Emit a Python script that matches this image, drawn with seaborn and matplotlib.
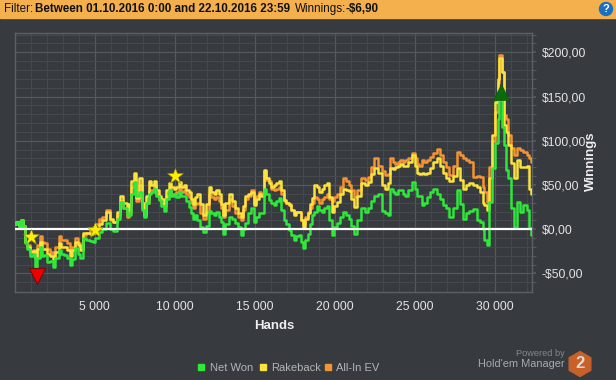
import matplotlib
matplotlib.use('Agg')
import matplotlib.pyplot as plt
import pandas as pd
import seaborn as sns
from matplotlib.patches import Circle, Rectangle, RegularPolygon

hands = [0, 200, 350, 450, 600, 720, 900, 1080, 1200, 1340, 1500, 1640, 1780, 1900, 2160, 2300, 2470, 2650, 2850, 3000,
         3150, 3350, 3530, 3700, 3880, 4000, 4150, 4350, 4600, 4800, 4950, 5150, 5350, 5600, 5850, 6050, 6280, 6500, 6700, 6900,
         7100, 7220, 7400, 7530, 7700, 7880, 8000, 8160, 8300, 8470, 8620, 8780, 8950, 9100, 9250, 9400, 9560, 9720, 9880, 10030,
         10200, 10350, 10500, 10650, 10800, 10970, 11100, 11200, 11350, 11500, 11700, 11900, 12050, 12220, 12380, 12530, 12700, 12850, 13000, 13090,
         13280, 13470, 13680, 13890, 14050, 14200, 14350, 14510, 14700, 14900, 15030, 15200, 15340, 15500, 15650, 15800, 15970, 16130, 16280, 16450,
         16600, 16750, 16900, 17060, 17220, 17380, 17530, 17680, 17840, 18000, 18090, 18250, 18400, 18530, 18660, 18820, 18970, 19120, 19280, 19440,
         19600, 19750, 19900, 20060, 20220, 20430, 20650, 20800, 20970, 21120, 21280, 21540, 21800, 22000, 22220, 22380, 22530, 22845, 23050, 23260,
         23365, 23575, 23730, 23890, 24040, 24200, 24360, 24510, 24700, 24930, 25085, 25240, 25345, 25550, 25660, 25865, 26070, 26280, 26490, 26700,
         26910, 27010, 27325, 27530, 27740, 27950, 28160, 28320, 28470, 28780, 28990, 29200, 29300, 29406, 29615, 29720, 29930, 30135, 30250, 30340,
         30550, 30660, 30760, 30970, 31115, 31320, 31490, 31700, 31900, 32120, 32220, 32300]
net_won = [6, 8, 4, 10, 4, -16, -22, -30, -28, -43, -32, -20, -30, -29, -37, -36, -43, -32, -24, -28,
           -29, -33, -40, -34, -21, -28, -33, -10, -12, -13, -15, -10, -3, 0, 7, 0, -2, 12, 31, 24,
           16, 16, 40, 53, 38, 42, 22, 14, 30, 40, 42, 46, 38, 33, 26, 21, 34, 44, 38, 40,
           36, 42, 38, 37, 32, 25, 18, 12, 16, 10, 2, -3, 4, 21, 18, 16, 20, 14, 8, -5,
           6, 14, 12, 7, 2, -6, 0, 7, 18, 24, 8, 14, 18, 18, 46, 40, 33, 30, 27, 32,
           35, 22, 10, 6, -1, -6, -12, -8, -7, -14, -21, -12, -5, 6, 16, 20, 26, 22, 20, 24,
           26, 10, -7, 2, 7, 14, 20, 16, 12, 4, -5, 10, 24, 20, 24, 32, 38, 40, 21, 18,
           16, 46, 42, 40, 44, 44, 40, 38, 44, 53, 46, 38, 38, 27, 30, 36, 42, 46, 40, 34,
           27, 24, 14, 24, 44, 28, 12, 18, 21, 23, 10, 8, 0, -12, -18, 31, 69, 98, 125, 146,
           115, 95, 67, 58, 24, 1, 31, 19, 27, 22, 1, -6.9]
rakeback = [6, 8, 4, 10, 4, -14, -20, -26, -25, -32, -22, -14, -22, -22, -28, -30, -34, -26, -16, -20,
            -20, -24, -30, -24, -14, -18, -24, -4, -4, -5, -4, 0, 6, 10, 20, 12, 8, 20, 38, 30,
            22, 29, 55, 63, 35, 58, 30, 16, 38, 54, 50, 54, 44, 38, 34, 29, 44, 52, 48, 46,
            48, 53, 48, 50, 44, 42, 34, 29, 36, 40, 28, 16, 28, 48, 42, 40, 44, 40, 28, 16,
            30, 40, 32, 24, 18, 14, 26, 37, 40, 42, 27, 34, 40, 37, 67, 58, 52, 48, 50, 52,
            55, 44, 33, 30, 27, 22, 16, 20, 19, 10, 2, 12, 18, 28, 35, 50, 48, 42, 46, 50,
            52, 36, 19, 26, 31, 40, 46, 44, 43, 34, 25, 38, 52, 50, 53, 62, 69, 64, 50, 46,
            52, 69, 68, 70, 72, 74, 72, 72, 76, 84, 72, 63, 62, 64, 62, 64, 69, 76, 80, 72,
            63, 58, 55, 60, 69, 56, 46, 50, 52, 50, 48, 42, 30, 27, 22, 58, 106, 144, 170, 193,
            178, 118, 110, 95, 75, 58, 78, 70, 70, 72, 46, 40]
all_in_ev = [6, 8, 4, 10, 4, -14, -18, -25, -24, -30, -18, -8, -14, -16, -22, -26, -30, -20, -8, -12,
             -12, -16, -24, -20, -10, -16, -22, -6, -4, 0, 2, 6, 12, 14, 22, 10, 8, 16, 32, 24,
             14, 20, 48, 56, 32, 50, 24, 15, 30, 44, 44, 50, 40, 34, 30, 26, 38, 46, 40, 40,
             42, 46, 42, 44, 40, 36, 30, 24, 28, 30, 18, 12, 20, 40, 36, 34, 36, 32, 24, 14,
             22, 34, 26, 18, 14, 10, 22, 34, 38, 44, 30, 38, 42, 40, 66, 56, 54, 46, 44, 46,
             48, 40, 32, 30, 28, 22, 18, 20, 20, 10, 6, 14, 20, 24, 30, 36, 34, 30, 34, 36,
             40, 34, 32, 36, 40, 48, 58, 54, 50, 44, 36, 44, 58, 56, 59, 70, 80, 72, 66, 61,
             62, 80, 76, 74, 76, 78, 76, 78, 80, 86, 80, 74, 72, 78, 76, 78, 82, 86, 91, 84,
             76, 70, 61, 72, 87, 84, 80, 78, 76, 59, 60, 59, 48, 42, 31, 70, 100, 132, 165, 197,
             178, 129, 125, 106, 92, 84, 92, 90, 87, 84, 80, 76]

series_names = ['Net Won', 'Rakeback', 'All-In EV']
series_colors = ['#2ee83a', '#fbe23c', '#f59432']
x_ticks = [5000, 10000, 15000, 20000, 25000, 30000]
x_labels = ['5 000', '10 000', '15 000', '20 000', '25 000', '30 000']
y_ticks = [-50, 0, 50, 100, 150, 200]
y_labels = ['-$50,00', '$0,00', '$50,00', '$100,00', '$150,00', '$200,00']
star_x = [1020, 5020, 10000]
star_y = [-9, -1, 60]
peak_x, peak_y = 30400, 155
low_x, low_y = 1430, -53

W, H = 616, 380
bg = '#373a3e'

sns.set_theme(style='dark')
plt.rcParams['font.family'] = ['Liberation Sans', 'DejaVu Sans']

df = pd.DataFrame({'hands': hands, 'Net Won': net_won, 'Rakeback': rakeback, 'All-In EV': all_in_ev})
df = df.melt(id_vars='hands', var_name='series', value_name='won')

fig = plt.figure(figsize=(W / 100, H / 100), dpi=100, facecolor=bg)
ax = fig.add_axes([15 / W, 1 - 291.5 / H, 516.7 / W, 258.5 / H], facecolor=bg)

# orange goes under yellow, green stays on top
for name in series_names[::-1]:
    sns.lineplot(data=df[df['series'] == name], x='hands', y='won', color=series_colors[series_names.index(name)],
                 linewidth=1.8, drawstyle='steps-mid', estimator=None, legend=False, ax=ax, zorder=3)

ax.axhline(0, color='white', linewidth=1.6, zorder=4)
ax.plot(star_x, star_y, linestyle='none', marker='*', markersize=12, color='#ffee00',
        markeredgecolor='#8a8a20', markeredgewidth=0.4, zorder=5)
ax.plot([peak_x], [peak_y], linestyle='none', marker='^', markersize=11, color='#0b6b0b',
        markeredgecolor='#0b5a0b', markeredgewidth=0.5, zorder=5)
ax.plot([low_x], [low_y], linestyle='none', marker='v', markersize=11, color='#ee0000',
        markeredgecolor='#7a0a0a', markeredgewidth=0.8, zorder=5)

ax.set_xlim(30, 32325)
ax.set_ylim(-70.4, 221.8)
ax.yaxis.tick_right()
ax.set_xticks(x_ticks, x_labels)
ax.set_yticks(y_ticks, y_labels)
ax.set_xticks([v for v in range(1000, 33000, 1000) if v % 5000], minor=True)
ax.set_yticks([v for v in range(-60, 221, 10) if v % 50], minor=True)
ax.grid(which='major', color='#55595d', linewidth=0.9)
ax.grid(which='minor', color='#46494d', linewidth=0.7)
ax.set_axisbelow(True)
ax.tick_params(axis='both', which='major', length=0, pad=7, labelsize=8.7, labelcolor='#e4e4e4')
ax.tick_params(axis='y', which='major', length=3.2, color='#55595d', pad=4)
ax.tick_params(axis='both', which='minor', length=3.2, width=0.8, color='#55595d')
ax.set_xlabel('')
ax.set_ylabel('')
for s in ax.spines.values():
    s.set_visible(True)
    s.set_color('#5d6165')
    s.set_linewidth(1)


def px(x, y):
    return x / W, 1 - y / H


# header bar
fig.patches.append(Rectangle((0, 1 - 17.5 / H), 1, 17.5 / H, transform=fig.transFigure, color='#f4b04c', zorder=1))
header = [(4, 'Filter:', 'normal'), (35, 'Between 01.10.2016 0:00 and 22.10.2016 23:59', 'bold'),
          (295, 'Winnings:', 'normal'), (345, '-$6,90', 'bold')]
for x0, txt, wt in header:
    fig.text(*px(x0, 9), txt, color='#111111', fontsize=8.4, fontweight=wt, va='center', ha='left')
fig.patches.append(Circle((606, H - 9), 6.5, transform=None, color='#1a6fc0', zorder=2))
fig.text(*px(606, 9), '?', color='white', fontsize=8, fontweight='bold', ha='center', va='center', zorder=3)

fig.text(*px(274, 326), 'Hands', color='#eeeeee', fontsize=9.5, fontweight='bold', ha='center', va='center')
fig.text(*px(591, 161), 'Winnings', color='#eeeeee', fontsize=9.5, fontweight='bold', rotation=90,
         ha='center', va='center')

# legend
leg_x = [198.5, 260, 325]
for x0, name, col in zip(leg_x, series_names, series_colors):
    fig.patches.append(Rectangle(px(x0, 370), 6 / W, 6 / H, transform=fig.transFigure, color=col))
    fig.text(*px(x0 + 11.5, 368), name, color='#b4b4b4', fontsize=8, ha='left', va='center')

# logo
fig.text(*px(565, 353), 'Powered by', color='#85888b', fontsize=6.7, ha='right', va='center')
fig.text(*px(565, 364), "Hold'em Manager", color='#a8aaac', fontsize=7.9, ha='right', va='center')
fig.patches.append(RegularPolygon((580, H - 364), 6, radius=12.5, transform=None, color='#c8602a', zorder=2))
fig.text(*px(580, 364), '2', color='#e8d8c8', fontsize=12, fontweight='bold', ha='center', va='center', zorder=3)

fig.savefig('out.png', dpi=100, facecolor=bg)
